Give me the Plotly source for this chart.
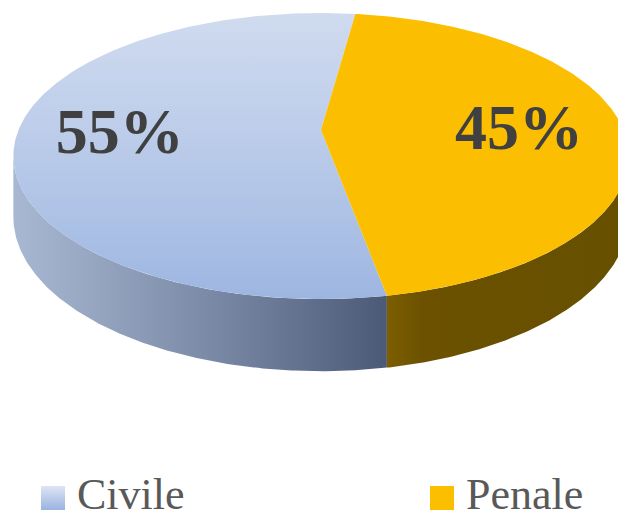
import numpy as np
import plotly.graph_objects as go

# ---- data ----
categories = ["Civile", "Penale"]
values = [55, 45]

# ---- style / geometry (pixel space of the 618x522 canvas) ----
W, Hgt = 618, 522
CX, CY = 321.0, 130.0       # projected centre of the pie
R = 302.5                   # horizontal radius
RK = 138.3                  # vertical radius (tilt)
P = 0.182                   # perspective factor
DEPTH = 59.0                # thickness of the pie
START = -79.7               # angle (deg, math convention) where the first slice starts, clockwise
LABEL_R = 0.66

top_colors = {
    "Civile": dict(type="vertical", colorscale=[[0, "#d0dbef"], [0.55, "#b6c8e8"], [1, "#9db6e1"]]),
    "Penale": None,
}
top_flat = {"Civile": "#b6c8e8", "Penale": "#fbbe00"}
side_colorscale = {
    "Civile": [[0, "#a9b8d2"], [0.5, "#7d8da9"], [1, "#4c5a77"]],
    "Penale": [[0, "#7d5e00"], [0.15, "#6b5100"], [1, "#665000"]],
}
legend_colors = {"Civile": ("#dde5f4", "#9ab3e0"), "Penale": ("#fcbf00", "#fcbf00")}


def proj(theta_deg, r=1.0, drop=0.0):
    t = np.radians(theta_deg)
    X = r * np.cos(t)
    Z = r * np.sin(t)
    w = 1 + P * Z
    return CX + R * X / w, CY - RK * Z / w + drop / w


total = float(sum(values))
spans = [v / total * 360.0 for v in values]
slices = []
a = START
for cat, sp in zip(categories, spans):
    slices.append((cat, a, a - sp))  # from a going clockwise to a - sp
    a -= sp

vis_lo = -180 + np.degrees(np.arcsin(P))
vis_hi = -np.degrees(np.arcsin(P))

fig = go.Figure()

# ---- side walls ----
for cat, a0, a1 in slices:
    hi, lo = a0, a1
    for shift in (-360, 0, 360):
        l = max(lo + shift, vis_lo)
        h = min(hi + shift, vis_hi)
        if h > l:
            th = np.linspace(l, h, 200)
            xt, yt = proj(th)
            xb, yb = proj(th[::-1], drop=DEPTH)
            xs = np.concatenate([xt, xb, xt[:1]])
            ys = np.concatenate([yt, yb, yt[:1]])
            fig.add_trace(go.Scatter(
                x=xs, y=ys, mode="lines", fill="toself",
                line=dict(width=0), hoverinfo="skip", showlegend=False,
                fillgradient=dict(type="horizontal", colorscale=side_colorscale[cat],
                                  start=float(xs.min()), stop=float(xs.max())),
            ))

# ---- top faces ----
for cat, a0, a1 in slices:
    th = np.linspace(a0, a1, 300)
    xa, ya = proj(th)
    xs = np.concatenate([[CX], xa, [CX]])
    ys = np.concatenate([[CY], ya, [CY]])
    kw = {}
    if top_colors[cat] is not None:
        kw["fillgradient"] = dict(top_colors[cat], start=float(ys.min()), stop=float(ys.max()))
    else:
        kw["fillcolor"] = top_flat[cat]
    fig.add_trace(go.Scatter(
        x=xs, y=ys, mode="lines", fill="toself", line=dict(width=0),
        hoverinfo="skip", showlegend=False, **kw))

# ---- percentage labels ----
lx, ly, lt = [], [], []
for (cat, a0, a1), v in zip(slices, values):
    mid = (a0 + a1) / 2
    x, y = proj(mid, r=LABEL_R)
    lx.append(float(x) - 1); ly.append(float(y) + 5)
    lt.append(f"{round(v / total * 100)}%")
fig.add_trace(go.Scatter(
    x=lx, y=ly, mode="text", text=lt, showlegend=False, hoverinfo="skip",
    textfont=dict(family="Liberation Serif", size=64, color="#404040", weight="bold"),
    textposition="middle center"))

# ---- legend (manual, bottom) ----
leg_x = [53, 442]
leg_y = 498
for cat, x in zip(categories, leg_x):
    c0, c1 = legend_colors[cat]
    fig.add_trace(go.Scatter(
        x=[x], y=[leg_y], mode="markers", showlegend=False, hoverinfo="skip",
        marker=dict(symbol="square", size=24, color=c0, line=dict(width=0),
                    gradient=dict(type="vertical", color=c1) if c0 != c1 else None)))
    fig.add_annotation(x=x + 23, y=leg_y - 4, text=cat, showarrow=False, xanchor="left",
                       yanchor="middle", borderpad=0,
                       font=dict(family="Liberation Serif", size=44, color="#595959"))

fig.update_layout(
    width=W, height=Hgt, margin=dict(l=0, r=0, t=0, b=0),
    paper_bgcolor="white", plot_bgcolor="white",
    xaxis=dict(range=[0, W], visible=False, fixedrange=True),
    yaxis=dict(range=[Hgt, 0], visible=False, fixedrange=True),
    showlegend=False,
)
fig.write_html(
    "out.html",
    config={"displayModeBar": False},
    post_script="document.body.style.margin='0';document.body.style.overflow='hidden';",
)
